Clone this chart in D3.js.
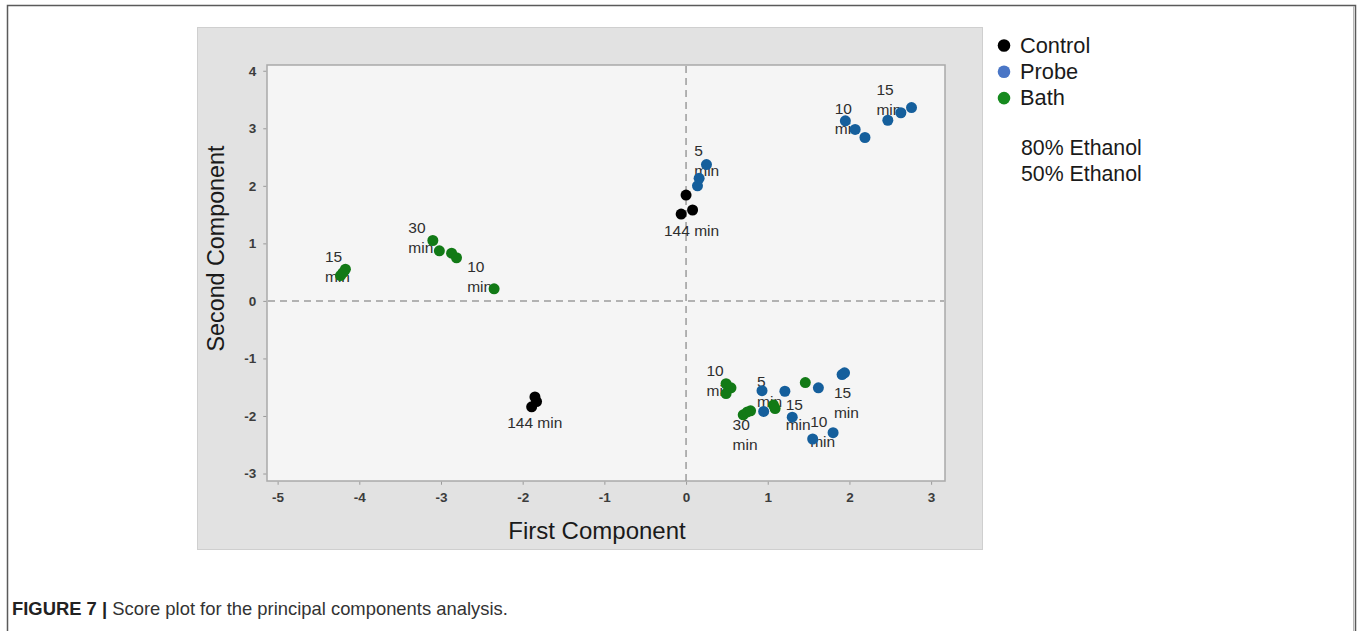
<!DOCTYPE html>
<html>
<head>
<meta charset="utf-8">
<script src="https://cdn.jsdelivr.net/npm/d3@7"></script>
<style>
  html, body { margin: 0; padding: 0; background: #ffffff; }
  svg { display: block; font-family: "Liberation Sans", Arial, sans-serif; }
</style>
</head>
<body>
<svg id="chart" width="1358" height="631"></svg>
<script>
// Score values (first component, second component) per extraction method
const controlScores = [
  [0.00, 1.84], [0.08, 1.58], [-0.06, 1.51],
  [-1.85, -1.67], [-1.83, -1.75], [-1.89, -1.84]
];
const probeScores = [
  [0.25, 2.37], [0.16, 2.13], [0.14, 2.00],
  [1.95, 3.13], [2.07, 2.98], [2.19, 2.84],
  [2.47, 3.14], [2.63, 3.27], [2.76, 3.36],
  [0.93, -1.56], [1.21, -1.57], [0.95, -1.92],
  [1.62, -1.51], [1.91, -1.28], [1.94, -1.25],
  [1.30, -2.02], [1.80, -2.29], [1.55, -2.40]
];
const bathScores = [
  [-4.23, 0.44], [-4.17, 0.55], [-4.20, 0.49],
  [-3.10, 1.05], [-3.02, 0.87], [-2.87, 0.83], [-2.81, 0.75],
  [-2.35, 0.21],
  [0.49, -1.44], [0.55, -1.51], [0.49, -1.61],
  [0.70, -1.98], [0.75, -1.93], [0.79, -1.91],
  [1.07, -1.81], [1.09, -1.87],
  [1.46, -1.42]
];

// Time annotations: text lines and their anchor in score units
const timeLabels = [
  { lines: ["15", "min"], at: [-4.42, 0.68] },
  { lines: ["30", "min"], at: [-3.40, 1.18] },
  { lines: ["10", "min"], at: [-2.68, 0.51] },
  { lines: ["5", "min"], at: [0.10, 2.51] },
  { lines: ["144 min"], at: [-0.27, 1.12] },
  { lines: ["10", "min"], at: [1.82, 3.24] },
  { lines: ["15", "min"], at: [2.33, 3.58] },
  { lines: ["144 min"], at: [-2.19, -2.21] },
  { lines: ["10", "min"], at: [0.25, -1.30] },
  { lines: ["5", "min"], at: [0.87, -1.49] },
  { lines: ["30", "min"], at: [0.57, -2.25] },
  { lines: ["15", "min"], at: [1.22, -1.89] },
  { lines: ["10", "min"], at: [1.52, -2.19] },
  { lines: ["15", "min"], at: [1.81, -1.69] }
];

const xTicks = [-5, -4, -3, -2, -1, 0, 1, 2, 3];
const yTicks = [-3, -2, -1, 0, 1, 2, 3, 4];
const xTitle = "First Component";
const yTitle = "Second Component";

const legendItems = ["Control", "Probe", "Bath"];
const legendNotes = ["80% Ethanol", "50% Ethanol"];
const captionLead = "FIGURE 7 |";
const captionText = " Score plot for the principal components analysis.";

const svg = d3.select("#chart");

// Figure frame
svg.append("path")
  .attr("d", "M7.5,640 V5.5 H1355.5 V640")
  .attr("fill", "none").attr("stroke", "#5a5a5a").attr("stroke-width", 1.5);
svg.append("line")
  .attr("x1", 1353.5).attr("x2", 1353.5).attr("y1", 6).attr("y2", 640)
  .attr("stroke", "#b8b8b8").attr("stroke-width", 1);

// Grey chart panel
svg.append("rect")
  .attr("x", 197.5).attr("y", 27.5).attr("width", 785).attr("height", 522)
  .attr("fill", "#e2e2e2").attr("stroke", "#cfcfcf");

const plot = { left: 267, right: 945, top: 65, bottom: 481 };

const x = d3.scaleLinear().domain([-5.13, 3.17]).range([plot.left, plot.right]);
const y = d3.scaleLinear().domain([-3.13, 4.10]).range([plot.bottom, plot.top]);

// Plot area
svg.append("rect")
  .attr("x", plot.left).attr("y", plot.top)
  .attr("width", plot.right - plot.left).attr("height", plot.bottom - plot.top)
  .attr("fill", "#f5f5f5").attr("stroke", "#a9a9a9").attr("stroke-width", 1.5);

// Axes (tick labels use a plain hyphen for negatives)
const tickFmt = d => String(d);
const xAxis = svg.append("g")
  .attr("transform", `translate(0,${plot.bottom + 0.75})`)
  .call(d3.axisBottom(x).tickValues(xTicks).tickSize(3).tickPadding(8).tickFormat(tickFmt));
const yAxis = svg.append("g")
  .attr("transform", `translate(${plot.left - 0.75},0)`)
  .call(d3.axisLeft(y).tickValues(yTicks).tickSize(3).tickPadding(7).tickFormat(tickFmt));
[xAxis, yAxis].forEach(g => {
  g.select(".domain").remove();
  g.selectAll(".tick line").attr("stroke", "#9a9a9a");
  g.selectAll(".tick text")
    .attr("fill", "#3c3c3c")
    .attr("font-size", 13.5)
    .attr("font-weight", "bold")
    .attr("font-family", "'Liberation Sans', Arial, sans-serif");
});

// Reference lines through the origin
svg.append("line")
  .attr("x1", x(0)).attr("x2", x(0)).attr("y1", plot.top + 1).attr("y2", plot.bottom)
  .attr("stroke", "#9c9c9c").attr("stroke-width", 1.5).attr("stroke-dasharray", "7,5");
svg.append("line")
  .attr("x1", plot.left + 1).attr("x2", plot.right - 1).attr("y1", y(0)).attr("y2", y(0))
  .attr("stroke", "#9c9c9c").attr("stroke-width", 1.5).attr("stroke-dasharray", "7,5");

// Axis titles
svg.append("text")
  .attr("x", 597).attr("y", 539)
  .attr("text-anchor", "middle").attr("font-size", 24).attr("fill", "#1a1a1a")
  .text(xTitle);
svg.append("text")
  .attr("transform", `translate(224,248.5) rotate(-90)`)
  .attr("text-anchor", "middle").attr("font-size", 23.3).attr("fill", "#1a1a1a")
  .text(yTitle);

// Time annotations
const labelG = svg.append("g").attr("font-size", 15.5).attr("fill", "#2e2e2e");
timeLabels.forEach(l => {
  const t = labelG.append("text").attr("x", x(l.at[0])).attr("y", y(l.at[1]));
  l.lines.forEach((s, i) => {
    t.append("tspan").attr("x", x(l.at[0])).attr("dy", i === 0 ? 0 : 20).text(s);
  });
});

// Score points
const groups = [
  { data: bathScores, color: "#127a16" },
  { data: probeScores, color: "#155f9c" },
  { data: controlScores, color: "#000000" }
];
groups.forEach(gp => {
  svg.append("g").selectAll("circle")
    .data(gp.data).join("circle")
    .attr("cx", d => x(d[0])).attr("cy", d => y(d[1]))
    .attr("r", 5.5).attr("fill", gp.color);
});

// Legend
const legendColors = d3.scaleOrdinal().domain(legendItems).range(["#000000", "#4a76c6", "#168a1e"]);
const legend = svg.append("g");
legendItems.forEach((name, i) => {
  legend.append("circle")
    .attr("cx", 1004).attr("cy", 45.5 + i * 26.3).attr("r", 6.3)
    .attr("fill", legendColors(name));
  legend.append("text")
    .attr("x", 1020).attr("y", 52.7 + i * 26.3)
    .attr("font-size", 21.8).attr("fill", "#1a1a1a").text(name);
});
legendNotes.forEach((note, i) => {
  legend.append("text")
    .attr("x", 1021).attr("y", 154.5 + i * 26)
    .attr("font-size", 21.3).attr("fill", "#1a1a1a").text(note);
});

// Caption
const cap = svg.append("text").attr("x", 12).attr("y", 615)
  .attr("font-size", 18.4).attr("fill", "#333333");
cap.append("tspan").attr("font-weight", "bold").attr("fill", "#222").text(captionLead);
cap.append("tspan").text(captionText);
</script>
</body>
</html>
